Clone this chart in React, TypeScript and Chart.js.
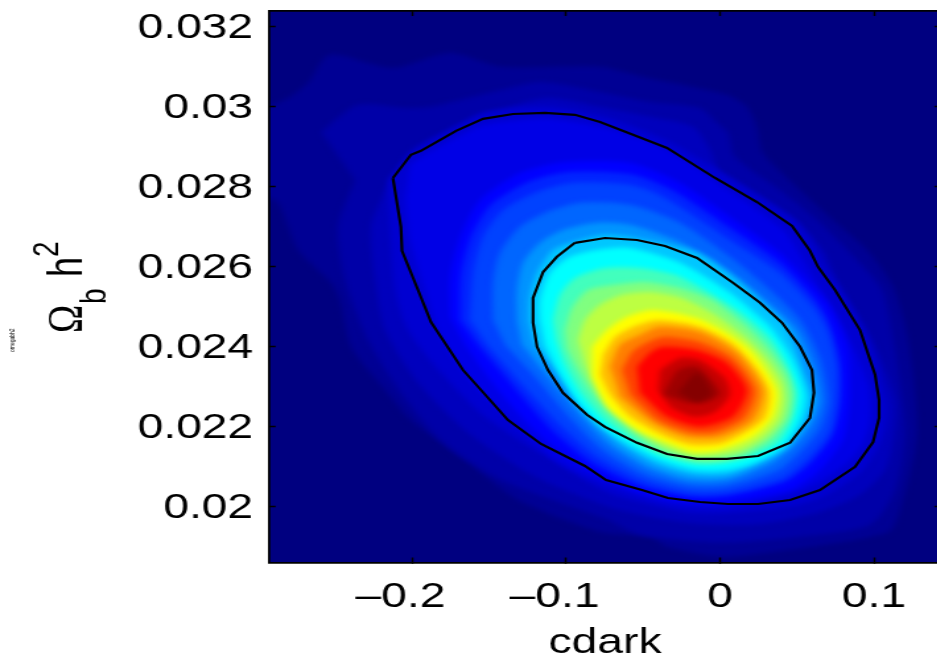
import React, { useEffect, useRef } from "react";
import { Chart, registerables } from "chart.js";

Chart.register(...registerables);

// Contour outlines: pairs of [cdark x 1000, omega_b h^2 x 1000].
const contourOuter = [[-212.4,28.2],[-200.7,28.78],[-194.2,28.88],[-171.4,29.38],[-153.9,29.68],[-134.4,29.8],[-113.6,29.83],[-94.2,29.78],[-77.9,29.6],[-56.5,29.28],[-34.4,28.95],[-3.2,28.2],[24,27.6],[46.8,27],[58.4,26.38],[63.6,25.98],[74.7,25.4],[90.9,24.4],[100.7,23.28],[103.3,22.65],[103.3,22.2],[99.4,21.6],[87.7,20.98],[64.9,20.4],[45.5,20.15],[24.7,20.05],[5.2,20.05],[-13,20.1],[-33.8,20.2],[-50.7,20.4],[-74,20.65],[-87.7,21],[-116.2,21.55],[-137.7,22.15],[-155.2,22.9],[-166.9,23.4],[-174.7,23.85],[-187.7,24.6],[-196.1,25.4],[-206.5,26.38],[-207.2,26.98],[-212.4,28.2]];
const contourInner = [[-94.2,26.58],[-74.7,26.7],[-53.9,26.65],[-35.7,26.5],[-14.9,26.2],[8.4,25.58],[26,25.08],[40.3,24.58],[52,23.98],[59.7,23.4],[61,22.83],[58.4,22.2],[45.5,21.58],[24.7,21.25],[4.5,21.18],[-14.9,21.18],[-34.4,21.3],[-53.9,21.58],[-74.7,21.98],[-86.4,22.28],[-102,22.83],[-111.7,23.4],[-118.8,23.98],[-121.4,24.58],[-121.4,25.2],[-114.9,25.85],[-105.9,26.23],[-94.2,26.58]];

// Filled density levels, outermost first
const levelValues = [0.02,0.04,0.06,0.08,0.1,0.125,0.16,0.19,0.225,0.27,0.32,0.375,0.44,0.5,0.56,0.625,0.69,0.75,0.81,0.875,0.93,0.97,0.995];
const band00 = [[-298.7,29.9],[-280.5,30.2],[-267.6,30.58],[-253.3,31.28],[-212.4,30.95],[-175.3,31.33],[-142.2,30.98],[-77.9,30.98],[-50,30.73],[4.5,30.28],[17.5,29.98],[24,29.48],[27.9,28.83],[52,27.9],[73.4,27.15],[95.5,26.4],[112.3,25.48],[122.1,24.15],[127.9,21.83],[116.9,19.9],[108.4,19.33],[30.5,18.83],[0,18.73],[-34.4,18.98],[-45.5,19.23],[-77.9,19.35],[-131.2,20.15],[-163.6,21.08],[-200.7,22.15],[-217.5,22.9],[-239.6,23.98],[-246.8,25.15],[-252.6,25.58],[-274,26.4],[-287,27.58],[-298.7,27.78]];
const band01 = [[-259.1,29.35],[-235.1,30.03],[-202.6,29.95],[-187.7,29.98],[-142.2,30.4],[-116.2,30.6],[-77.9,30.35],[-45.5,30.1],[-13,29.95],[-1.9,29.58],[5.2,29.33],[9.7,28.73],[39,27.9],[63,27.15],[89,26.15],[105.2,25.4],[113.6,23.9],[120.1,21.9],[113.6,20.4],[97.4,19.53],[52,19.23],[0,19.08],[-52,19.28],[-72.7,19.65],[-142.2,20.65],[-181.2,21.65],[-207.2,22.83],[-228.6,24.15],[-243.5,25.65],[-248.1,26.98],[-237,28.15]];
const band02 = [[-202.6,28.83],[-185.1,29.23],[-155.2,29.73],[-113.6,30.2],[-77.9,29.98],[-45.5,29.73],[-17.5,29.48],[-6.5,28.9],[0,28.33],[24,27.78],[50,27.08],[66.9,26.4],[77.9,25.48],[98.7,24.15],[113.6,22.65],[112.3,21.65],[107.2,20.9],[90.9,20.28],[64.9,19.85],[26,19.55],[-13,19.55],[-45.5,19.73],[-72.7,19.98],[-120.1,20.73],[-163.6,21.83],[-196.1,23.08],[-217.5,24.4],[-224,25.65],[-226.6,26.98],[-217.5,27.9]];
const band03 = [[-204.6,28.65],[-196.1,28.95],[-168.8,29.55],[-152.6,29.85],[-113.6,29.98],[-72.7,29.7],[-34.4,29.13],[-1.3,28.4],[26,27.73],[50,27.1],[61.7,26.45],[68.2,25.95],[79.2,25.35],[96.1,24.15],[107.2,22.65],[107.2,22.03],[102.6,21.48],[90.9,20.83],[66.9,20.23],[45.5,19.98],[5.2,19.83],[-19.5,19.83],[-44.8,20.03],[-72.7,20.33],[-109.7,21.15],[-152.6,22.23],[-181.2,23.33],[-202.6,24.4],[-211,25.4],[-214.3,26.98],[-215.6,28.15]];
const band04 = [[-201.3,28.53],[-191.6,28.78],[-170.1,29.23],[-152.6,29.53],[-113.6,29.68],[-77.9,29.48],[-45.5,29.1],[-19.5,28.58],[0,28.03],[22.7,27.45],[42.2,26.85],[52,26.28],[61.7,25.65],[81.2,24.4],[96.1,23.03],[97.4,22.15],[92.2,21.53],[81.2,21.03],[58.4,20.48],[39,20.23],[5.2,19.98],[-19.5,20],[-42.2,20.15],[-72.7,20.53],[-103.9,21.1],[-133.1,22.03],[-162.4,23.15],[-181.8,24.28],[-191.6,25.4],[-201.3,26.65],[-204.6,27.65]];
const band05 = [[-175.3,24.73],[-175.3,25.73],[-168.8,26.73],[-155.9,27.65],[-129.9,28.33],[-102,28.6],[-58.4,28.58],[-26,28.08],[6.5,27.23],[39,26.33],[60.4,25.48],[71.4,24.98],[83.1,23.9],[84.4,22.65],[79.9,21.65],[64.9,20.9],[45.5,20.4],[5.2,20.1],[-19.5,20.1],[-52,20.35],[-84.4,20.9],[-113.6,21.65],[-144.2,22.9],[-165.6,24.03]];
const band06 = [[-168.8,24.65],[-168.2,25.78],[-161.7,26.73],[-148.7,27.53],[-124.7,28.1],[-98.7,28.35],[-58.4,28.3],[-31.2,27.9],[6.5,26.95],[39,26.08],[60.4,25.23],[70.1,24.65],[77.9,23.65],[78.6,22.65],[73.4,21.78],[59.7,21.1],[42.2,20.6],[5.2,20.25],[-19.5,20.23],[-52,20.5],[-83.1,21.08],[-109.1,21.9],[-135.1,23.03],[-157.2,24.03]];
const band07 = [[-162.4,24.65],[-160.4,25.83],[-153.9,26.73],[-140.9,27.4],[-118.8,27.85],[-95.5,28.08],[-58.4,28.03],[-37,27.73],[6.5,26.65],[39,25.83],[60.4,24.98],[69.5,24.4],[75.3,23.53],[75.3,22.65],[70.8,21.85],[57.1,21.2],[40.3,20.7],[5.2,20.35],[-19.5,20.33],[-50.7,20.63],[-79.9,21.23],[-103.9,22.03],[-129.9,23.1],[-151.3,24.03]];
const band08 = [[-147.4,24.65],[-147.4,25.58],[-142.9,26.33],[-129.9,26.98],[-112.3,27.35],[-90.9,27.58],[-58.4,27.53],[-26,27.08],[6.5,26.23],[32.5,25.4],[52,24.65],[64.9,23.7],[70.1,22.65],[64.9,21.95],[52,21.35],[37,20.88],[5.2,20.5],[-19.5,20.48],[-48.7,20.78],[-76,21.4],[-96.1,22.15],[-121.4,23.28],[-139.6,24.03]];
const band09 = [[-131.8,24.65],[-131.8,25.4],[-127.9,26.08],[-116.9,26.58],[-102,26.9],[-79.9,27.08],[-58.4,27.03],[-26,26.6],[6.5,25.85],[34.4,24.98],[50,24.4],[60.4,23.53],[64.9,22.65],[59.7,22.05],[47.4,21.48],[32.5,21.05],[5.2,20.65],[-19.5,20.63],[-46.8,20.95],[-71.4,21.53],[-89.6,22.23],[-113.6,23.33],[-128.6,24.03]];
const band10 = [[-124,24.65],[-123.4,25.23],[-118.8,25.83],[-108.4,26.4],[-95.5,26.6],[-76,26.78],[-58.4,26.73],[-14.9,26.33],[13,25.58],[37,24.73],[44.2,24.4],[53.9,23.4],[59.7,22.7],[55.8,22.13],[44.2,21.5],[29.2,21.15],[5.2,20.78],[-18.2,20.78],[-42.2,21.05],[-66.2,21.6],[-83.1,22.28],[-105.2,23.35],[-120.1,24.03]];
const band11 = [[-116.9,24.65],[-116.9,25.15],[-110.4,25.83],[-97.4,26.23],[-79.9,26.4],[-58.4,26.45],[-26,26.08],[6.5,25.33],[27.9,24.65],[34.4,24.4],[47.4,23.65],[55.2,22.78],[52,22.15],[40.9,21.48],[22.7,21.08],[4.5,20.9],[-16.2,20.9],[-39,21.15],[-58.4,21.53],[-77.9,22],[-92.9,22.6],[-103.9,23.28],[-113.6,24.03]];
const band12 = [[-108.4,24.65],[-103.9,25.28],[-94.2,25.7],[-74.7,25.95],[-52,25.95],[-29.2,25.78],[-9.7,25.4],[13,24.85],[32.5,24.2],[43.5,23.53],[50,22.85],[47.4,22.2],[37.7,21.58],[19.5,21.23],[3.2,21.08],[-16.2,21.05],[-39,21.28],[-57.1,21.65],[-74.7,22.15],[-89.6,22.78],[-100.7,23.53],[-106.5,24.15]];
const band13 = [[-100.7,24.4],[-96.1,24.95],[-85.7,25.4],[-68.2,25.53],[-48.7,25.6],[-26,25.45],[-5.2,25.15],[16.2,24.53],[32.5,23.9],[43.5,23.28],[46.8,22.78],[44.2,22.2],[32.5,21.65],[16.2,21.3],[0,21.15],[-16.2,21.15],[-37.7,21.38],[-55.2,21.78],[-71.4,22.3],[-84.4,22.9],[-94.2,23.53],[-99.4,23.95]];
const band14 = [[-92.2,24.15],[-87.7,24.65],[-77.9,25.03],[-63.6,25.28],[-45.5,25.35],[-24.7,25.2],[-3.2,24.78],[16.2,24.23],[31.2,23.65],[40.3,23.1],[42.2,22.65],[39,22.15],[29.2,21.73],[14.3,21.4],[0,21.28],[-17.5,21.25],[-35.7,21.48],[-53.3,21.88],[-68.2,22.4],[-79.9,22.98],[-87.7,23.53]];
const band15 = [[-83.1,23.98],[-73.4,24.4],[-60.4,24.73],[-43.5,24.9],[-14.9,24.7],[4.5,24.33],[21.4,23.83],[37,22.9],[34.4,22.23],[21.4,21.73],[0,21.4],[-17.5,21.35],[-34.4,21.58],[-53.9,21.9],[-73.4,22.48],[-83.1,23.23]];
const band16 = [[-76,23.78],[-68.2,24.23],[-55.2,24.5],[-40.3,24.65],[-14.3,24.5],[7.8,24.08],[24.7,23.4],[32.5,22.85],[29.2,22.2],[16.2,21.83],[0,21.55],[-19.5,21.53],[-39,21.8],[-58.4,22.23],[-71.4,22.78],[-77.9,23.28]];
const band17 = [[-71.4,23.48],[-64.9,24.03],[-52,24.28],[-39,24.48],[-13,24.35],[11,23.83],[27.9,22.9],[21.4,22.15],[0,21.73],[-21.4,21.73],[-43.5,22.08],[-64.9,22.73]];
const band18 = [[-63.6,23.4],[-57.1,23.85],[-46.8,24.1],[-35.7,24.23],[-13,24.1],[7.8,23.7],[22.7,22.9],[15.6,22.2],[-3.2,21.85],[-19.5,21.85],[-40.3,22.15],[-58.4,22.78]];
const band19 = [[-53.9,23.48],[-45.5,23.83],[-37,23.98],[-14.9,23.9],[4.5,23.58],[17.5,22.9],[8.4,22.23],[-13,21.98],[-34.4,22.23],[-52,22.83]];
const band20 = [[-39,23.4],[-26,23.7],[-13,23.65],[3.2,23.2],[6.5,22.78],[-3.2,22.35],[-16.2,22.23],[-31.2,22.45],[-40.3,22.9]];
const band21 = [[-37,22.78],[-27.3,23.4],[-14.9,23.48],[0,22.83],[-8.4,22.6],[-21.4,22.58]];
const band22 = [[-27.3,22.83],[-14.9,23.33],[-5.2,22.8],[-14.9,22.58]];
const bands = [band00,band01,band02,band03,band04,band05,band06,band07,band08,band09,band10,band11,band12,band13,band14,band15,band16,band17,band18,band19,band20,band21,band22];

const xTicks = [-0.2, -0.1, 0, 0.1];
const yTicks = [0.032, 0.03, 0.028, 0.026, 0.024, 0.022, 0.02];
const xTickLabels = ["\u20130.2\u2002", "\u20130.1\u2002", "0", "0.1"];
const yTickLabels = ["0.032", "0.03", "0.028", "0.026", "0.024", "0.022", "0.02"];
const xRange = [-0.29286, 0.14351];
const yRange = [0.0185875, 0.032375];

const STRETCH = 1.32;
const CANVAS_W = 716;
const CANVAS_H = 658;
const FONT = '"Liberation Sans", Arial, sans-serif';

function jet(t: number) {
  const ramp = (v: number) => Math.round(255 * Math.max(0, Math.min(1, v)));
  const r = ramp(Math.min(4 * t - 1.5, -4 * t + 4.5));
  const g = ramp(Math.min(4 * t - 0.5, -4 * t + 3.5));
  const b = ramp(Math.min(4 * t + 0.5, -4 * t + 2.5));
  return `rgb(${r},${g},${b})`;
}

const toPoints = (pairs: number[][]) => pairs.map(([x, y]) => ({ x: x / 1000, y: y / 1000 }));

const decorate = {
  id: "decorate",
  beforeDatasetsDraw(chart: any) {
    const { ctx, chartArea: a } = chart;
    ctx.save();
    ctx.fillStyle = jet(0);
    ctx.fillRect(a.left, a.top, a.right - a.left, a.bottom - a.top);
    ctx.restore();
    ctx.filter = "blur(2.5px)";
  },
  beforeDatasetDraw(chart: any, args: any) {
    if (chart.data.datasets[args.index].isContour) chart.ctx.filter = "none";
  },
  afterDatasetsDraw(chart: any) {
    chart.ctx.filter = "none";
  },
  afterDraw(chart: any) {
    const { ctx } = chart;
    const put = (text: string, font: string, pxX: number, pxY: number) => {
      ctx.save();
      ctx.translate(pxX / STRETCH, pxY);
      ctx.rotate(-Math.PI / 2);
      ctx.font = font;
      ctx.fillStyle = "#000";
      ctx.textAlign = "left";
      ctx.textBaseline = "alphabetic";
      ctx.fillText(text, 0, 0);
      ctx.restore();
    };
    put("\u03a9", '38px "Liberation Serif", serif', 82, 333);
    put("b", `28px ${FONT}`, 105, 304);
    put("h", `36px ${FONT}`, 82, 277);
    put("2", `28px ${FONT}`, 58, 257);
    put("omegabh2", `5px ${FONT}`, 14, 352);
  },
};

function sizeFix(size: { width?: number; height?: number }) {
  return (scale: any) => {
    if (size.width !== undefined) scale.width = size.width;
    if (size.height !== undefined) scale.height = size.height;
    scale.paddingLeft = scale.paddingRight = scale.paddingTop = scale.paddingBottom = 0;
  };
}

export default function App() {
  const ref = useRef<HTMLCanvasElement>(null);
  useEffect(() => {
    const lineSet = (pairs: number[][]) => ({
      data: toPoints(pairs),
      showLine: true,
      isContour: true,
      fill: false,
      borderColor: "#000",
      borderWidth: 2.2,
      pointRadius: 0,
      tension: 0,
    });
    const fillSets = bands
      .map((pairs, i) => ({
        data: toPoints(pairs),
        showLine: true,
        fill: "shape",
        backgroundColor: jet(levelValues[i]),
        borderWidth: 0,
        pointRadius: 0,
        tension: 0.25,
      }))
      .reverse();
    const axisBase = {
      border: { display: true, color: "#000", width: 1.7, z: 1 },
      grid: { drawOnChartArea: false, tickLength: -5, tickWidth: 1.5, tickColor: "#000", z: 1 },
    };
    const tickFont = { family: FONT, size: 35 };
    const chart = new Chart(ref.current as HTMLCanvasElement, {
      type: "scatter",
      data: { datasets: [lineSet(contourInner), lineSet(contourOuter), ...fillSets] as any },
      plugins: [decorate],
      options: {
        animation: false,
        responsive: false,
        devicePixelRatio: 1,
        layout: { padding: { left: 0, top: 11, right: CANVAS_W - 941 / STRETCH, bottom: 0 } },
        plugins: { legend: { display: false }, tooltip: { enabled: false } },
        scales: {
          x: {
            ...axisBase,
            position: "bottom",
            min: xRange[0],
            max: xRange[1],
            afterBuildTicks: (s: any) => { s.ticks = xTicks.map((value) => ({ value })); },
            afterFit: sizeFix({ height: CANVAS_H - 562.5 }),
            ticks: {
              padding: 19,
              maxRotation: 0,
              autoSkip: false,
              color: "#000",
              font: tickFont,
              callback: (v: any) => xTickLabels[xTicks.indexOf(v)],
            },
            title: {
              display: true,
              text: "cdark",
              color: "#000",
              font: { family: FONT, size: 35, lineHeight: 0.8 },
              padding: { top: 0, bottom: 1 },
            },
          },
          y: {
            ...axisBase,
            position: "left",
            min: yRange[0],
            max: yRange[1],
            afterBuildTicks: (s: any) => { s.ticks = yTicks.map((value) => ({ value })); },
            afterFit: sizeFix({ width: 269 / STRETCH }),
            ticks: {
              padding: 17,
              labelOffset: 2,
              autoSkip: false,
              color: "#000",
              font: tickFont,
              callback: (v: any) => yTickLabels[yTicks.indexOf(v)],
            },
          },
          xTop: {
            ...axisBase,
            position: "top",
            min: xRange[0],
            max: xRange[1],
            afterBuildTicks: (s: any) => { s.ticks = xTicks.map((value) => ({ value })); },
            afterFit: sizeFix({ height: 0 }),
            ticks: { display: false },
          },
          yRight: {
            ...axisBase,
            position: "right",
            min: yRange[0],
            max: yRange[1],
            afterBuildTicks: (s: any) => { s.ticks = yTicks.map((value) => ({ value })); },
            afterFit: sizeFix({ width: 0 }),
            ticks: { display: false },
          },
        },
      } as any,
    });
    return () => chart.destroy();
  }, []);
  return (
    <div style={{ position: "fixed", left: 0, top: 0, width: 937, height: 658, overflow: "hidden", background: "#fff" }}>
      <canvas
        ref={ref}
        width={CANVAS_W}
        height={CANVAS_H}
        style={{ transform: `scale(${STRETCH},1)`, transformOrigin: "0 0" }}
      />
    </div>
  );
}
